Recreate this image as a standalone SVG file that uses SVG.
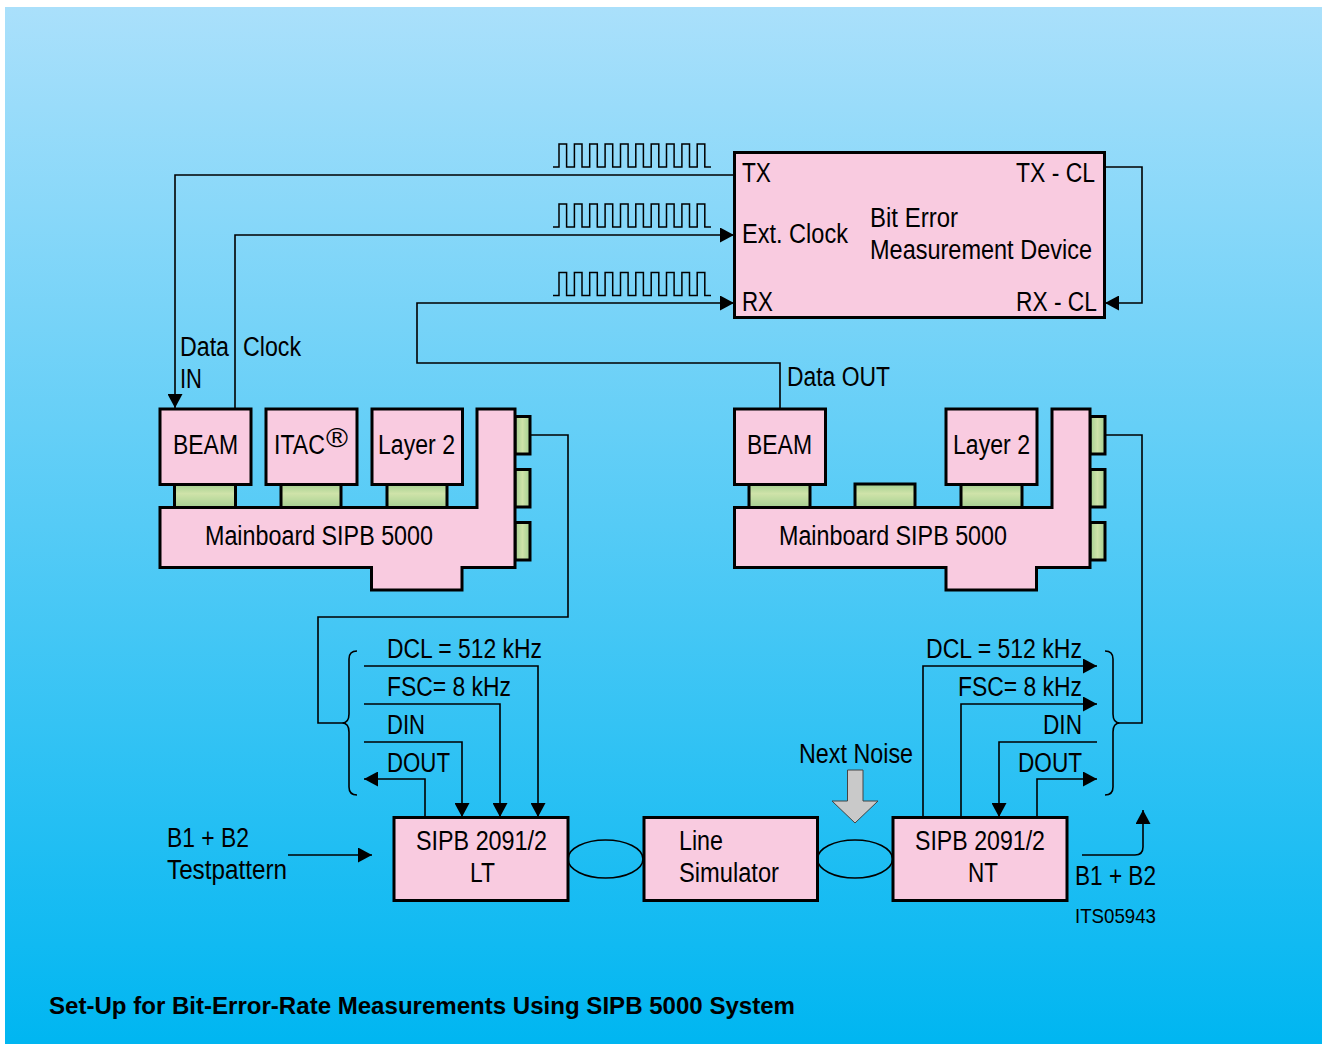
<svg xmlns="http://www.w3.org/2000/svg" xmlns:xlink="http://www.w3.org/1999/xlink" width="1324" height="1044" viewBox="0 0 1324 1044">
<style>
.box{fill:#f9cbe0;stroke:#000;stroke-width:3}
.gv{fill:url(#gv);stroke:#000;stroke-width:3}
.gh{fill:url(#gh);stroke:#000;stroke-width:3}
.ln{fill:none;stroke:#000;stroke-width:1.6}
.wave{fill:none;stroke:#000;stroke-width:1.5}
.arr{marker-end:url(#ah)}
text{font-family:"Liberation Sans",Arial,sans-serif;font-size:27px;fill:#000}
.title{font-weight:bold;font-size:24px}
.sm{font-size:21px}
</style>
<defs>
<linearGradient id="bg" x1="0" y1="0" x2="0" y2="1"><stop offset="0" stop-color="#aae0fb"/><stop offset="1" stop-color="#00b6f1"/></linearGradient>
<linearGradient id="gv" x1="0" y1="0" x2="0" y2="1"><stop offset="0" stop-color="#a3cf90"/><stop offset=".4" stop-color="#cfe3a9"/><stop offset="1" stop-color="#a3cf90"/></linearGradient>
<linearGradient id="gh" x1="0" y1="0" x2="1" y2="0"><stop offset="0" stop-color="#a3cf90"/><stop offset=".5" stop-color="#cfe3a9"/><stop offset="1" stop-color="#a3cf90"/></linearGradient>
<marker id="ah" markerUnits="userSpaceOnUse" markerWidth="15" markerHeight="15" refX="14" refY="7.500" orient="auto"><path d="M0 0L14 7.500L0 15Z" fill="#000"/></marker>
<path id="w" d="M553 0H559V-23H566.600V0H574.400V-23H582V0H589.700V-23H597.300V0H605.100V-23H612.700V0H620.500V-23H628.100V0H635.800V-23H643.400V0H651.200V-23H658.800V0H666.500V-23H674.100V0H681.900V-23H689.500V0H697.200V-23H704.800V0H711"/>
</defs>
<rect id="background" x="5" y="7" width="1317" height="1037" fill="url(#bg)"/>

<g id="connectors">
<path class="ln arr" d="M734 175H175V408"/>
<path class="ln arr" d="M235 408V235H734"/>
<path class="ln arr" d="M780 408V363H417V303H734"/>
<path class="ln arr" d="M1105 167H1142V303H1105"/>
<path class="ln" d="M530 435H568V617H318V723H342"/>
<path class="ln" d="M357 651Q349 651 349 659V714Q349 723 342 723Q349 723 349 732V787Q349 795 357 795"/>
<path class="ln" d="M1105 435H1142V723H1120"/>
<path class="ln" d="M1105 651Q1113 651 1113 659V714Q1113 723 1120 723Q1113 723 1113 732V787Q1113 795 1105 795"/>
<path class="ln arr" d="M364 666H538V817"/>
<path class="ln arr" d="M364 704H500V817"/>
<path class="ln arr" d="M364 742H462V817"/>
<path class="ln arr" d="M425 817V779H364"/>
<path class="ln arr" d="M923 817V666H1097"/>
<path class="ln arr" d="M961 817V704H1097"/>
<path class="ln arr" d="M1097 742H999V817"/>
<path class="ln arr" d="M1037 817V779H1097"/>
<path class="ln arr" d="M288 855H372"/>
<path class="ln arr" d="M1082 855H1135Q1143 855 1143 847V810"/>
<use href="#w" class="wave" y="167"/>
<use href="#w" class="wave" y="227"/>
<use href="#w" class="wave" y="295.500"/>
</g>

<g id="bit-error-device">
<rect class="box" x="734.500" y="152.500" width="370" height="165"/>
<text x="742" y="182" textLength="29" lengthAdjust="spacingAndGlyphs">TX</text>
<text x="742" y="243" textLength="106" lengthAdjust="spacingAndGlyphs">Ext. Clock</text>
<text x="742" y="311" textLength="31" lengthAdjust="spacingAndGlyphs">RX</text>
<text x="1016" y="182" textLength="79" lengthAdjust="spacingAndGlyphs">TX - CL</text>
<text x="1016" y="311" textLength="81" lengthAdjust="spacingAndGlyphs">RX - CL</text>
<text x="870" y="227" textLength="88" lengthAdjust="spacingAndGlyphs">Bit Error</text>
<text x="870" y="259" textLength="222" lengthAdjust="spacingAndGlyphs">Measurement Device</text>
</g>

<g id="mainboard-left">
<rect class="gv" x="174.500" y="484" width="61" height="24"/>
<rect class="gv" x="281" y="484" width="60" height="24"/>
<rect class="gv" x="387" y="484" width="60" height="24"/>
<rect class="gh" x="515" y="416.500" width="15" height="37.500"/>
<rect class="gh" x="515" y="469.500" width="15" height="37.500"/>
<rect class="gh" x="515" y="522.500" width="15" height="37.500"/>
<path class="box" d="M160 507.500H477V409H515V567.500H462V590H371.500V567.500H160Z"/>
<text x="205" y="545" textLength="228" lengthAdjust="spacingAndGlyphs">Mainboard SIPB 5000</text>
</g>
<g id="beam-left"><rect class="box" x="160" y="409" width="91" height="75.500"/><text x="173" y="454" textLength="65" lengthAdjust="spacingAndGlyphs">BEAM</text></g>
<g id="itac"><rect class="box" x="266" y="409" width="91" height="75.500"/><text x="274" y="454"><tspan textLength="51" lengthAdjust="spacingAndGlyphs">ITAC</tspan><tspan x="326" y="447" textLength="22" lengthAdjust="spacingAndGlyphs">®</tspan></text></g>
<g id="layer2-left"><rect class="box" x="372" y="409" width="90.500" height="75.500"/><text x="378" y="454" textLength="77" lengthAdjust="spacingAndGlyphs">Layer 2</text></g>

<g id="mainboard-right">
<rect class="gv" x="749" y="484" width="61" height="24"/>
<rect class="gv" x="855" y="484" width="60" height="24"/>
<rect class="gv" x="961" y="484" width="61" height="24"/>
<rect class="gh" x="1090" y="416.500" width="15" height="37.500"/>
<rect class="gh" x="1090" y="469.500" width="15" height="37.500"/>
<rect class="gh" x="1090" y="522.500" width="15" height="37.500"/>
<path class="box" d="M734.500 507.500H1052V409H1090V567.500H1036.500V590H946V567.500H734.500Z"/>
<text x="779" y="545" textLength="228" lengthAdjust="spacingAndGlyphs">Mainboard SIPB 5000</text>
</g>
<g id="beam-right"><rect class="box" x="734.500" y="409" width="91" height="75.500"/><text x="747" y="454" textLength="65" lengthAdjust="spacingAndGlyphs">BEAM</text></g>
<g id="layer2-right"><rect class="box" x="946" y="409" width="91" height="75.500"/><text x="953" y="454" textLength="77" lengthAdjust="spacingAndGlyphs">Layer 2</text></g>

<g id="lt"><rect class="box" x="394" y="817.500" width="174" height="83"/><text x="416" y="850" textLength="131" lengthAdjust="spacingAndGlyphs">SIPB 2091/2</text><text x="470" y="882" textLength="25" lengthAdjust="spacingAndGlyphs">LT</text></g>
<g id="line-simulator"><rect class="box" x="644" y="817.500" width="173.500" height="83"/><text x="679" y="850" textLength="44" lengthAdjust="spacingAndGlyphs">Line</text><text x="679" y="882" textLength="100" lengthAdjust="spacingAndGlyphs">Simulator</text></g>
<g id="nt"><rect class="box" x="893" y="817.500" width="174" height="83"/><text x="915" y="850" textLength="130" lengthAdjust="spacingAndGlyphs">SIPB 2091/2</text><text x="968" y="882" textLength="30" lengthAdjust="spacingAndGlyphs">NT</text></g>

<g id="loops">
<ellipse class="ln" cx="605.500" cy="859" rx="37.500" ry="19"/>
<ellipse class="ln" cx="855" cy="859" rx="37.500" ry="19"/>
</g>
<g id="noise-arrow"><path d="M847.500 770H863V801H878L855 823L832 801H847.500Z" fill="#c9c9c9" stroke="#444" stroke-width="1"/></g>

<g id="labels">
<text x="180" y="356" textLength="49" lengthAdjust="spacingAndGlyphs">Data</text>
<text x="180" y="388" textLength="22" lengthAdjust="spacingAndGlyphs">IN</text>
<text x="243" y="356" textLength="58" lengthAdjust="spacingAndGlyphs">Clock</text>
<text x="787" y="386" textLength="103" lengthAdjust="spacingAndGlyphs">Data OUT</text>
<text x="387" y="658" textLength="155" lengthAdjust="spacingAndGlyphs">DCL = 512 kHz</text>
<text x="387" y="696" textLength="124" lengthAdjust="spacingAndGlyphs">FSC= 8 kHz</text>
<text x="387" y="734" textLength="38" lengthAdjust="spacingAndGlyphs">DIN</text>
<text x="387" y="772" textLength="63" lengthAdjust="spacingAndGlyphs">DOUT</text>
<text x="926" y="658" textLength="156" lengthAdjust="spacingAndGlyphs">DCL = 512 kHz</text>
<text x="958" y="696" textLength="124" lengthAdjust="spacingAndGlyphs">FSC= 8 kHz</text>
<text x="1043" y="734" textLength="39" lengthAdjust="spacingAndGlyphs">DIN</text>
<text x="1018" y="772" textLength="64" lengthAdjust="spacingAndGlyphs">DOUT</text>
<text x="799" y="763" textLength="114" lengthAdjust="spacingAndGlyphs">Next Noise</text>
<text x="167" y="847" textLength="82" lengthAdjust="spacingAndGlyphs">B1 + B2</text>
<text x="167" y="879" textLength="120" lengthAdjust="spacingAndGlyphs">Testpattern</text>
<text x="1075" y="885" textLength="81" lengthAdjust="spacingAndGlyphs">B1 + B2</text>
<text class="sm" x="1075" y="923" textLength="81" lengthAdjust="spacingAndGlyphs">ITS05943</text>
<text class="title" x="49" y="1014" textLength="746" lengthAdjust="spacingAndGlyphs">Set-Up for Bit-Error-Rate Measurements Using SIPB 5000 System</text>
</g>
</svg>
